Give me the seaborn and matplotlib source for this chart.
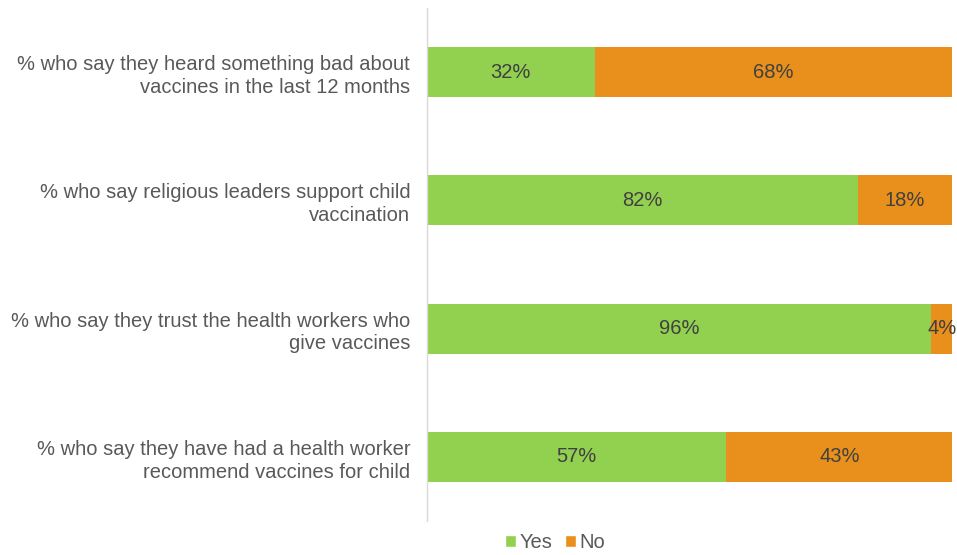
import matplotlib
matplotlib.use("Agg")
import matplotlib.pyplot as plt
from matplotlib.patches import Patch
import seaborn as sns
import pandas as pd

categories = [
    "% who say they heard something bad about\nvaccines in the last 12 months",
    "% who say religious leaders support child\nvaccination",
    "% who say they trust the health workers who\ngive vaccines",
    "% who say they have had a health worker\nrecommend vaccines for child",
]
yes_values = [32, 82, 96, 57]
no_values = [68, 18, 4, 43]
series_names = ["Yes", "No"]

GREEN = "#92D050"
ORANGE = "#E8901B"
TEXT = "#595959"

sns.set_theme(style="white")
plt.rcParams["font.family"] = ["Liberation Sans", "DejaVu Sans"]

df = pd.DataFrame({"cat": categories, "yes": yes_values, "no": no_values})
df["total"] = df["yes"] + df["no"]

fig = plt.figure(figsize=(9.57, 5.55), dpi=100)
ax = fig.add_axes([0.446, 0.0613, 0.549, 0.9243])

sns.barplot(data=df, y="cat", x="total", color=ORANGE, orient="h", width=0.39,
            ax=ax, saturation=1, edgecolor="none")
sns.barplot(data=df, y="cat", x="yes", color=GREEN, orient="h", width=0.39,
            ax=ax, saturation=1, edgecolor="none")

for i, (y_, n_) in enumerate(zip(yes_values, no_values)):
    ax.text(y_ / 2, i, f"{y_}%", ha="center", va="center", fontsize=14.5, color="#404040")
    ax.text(y_ + n_ / 2, i, f"{n_}%", ha="center", va="center", fontsize=14.5, color="#404040")

ax.set_xlim(0, 100)
ax.set_ylim(3.5, -0.5)
ax.set_xlabel("")
ax.set_ylabel("")
ax.set_xticks([])
ax.tick_params(axis="y", length=0, pad=12, labelsize=14.5, labelcolor=TEXT)
for lab in ax.get_yticklabels():
    lab.set_multialignment("right")
    lab.set_linespacing(1.25)
for s in ["top", "right", "bottom"]:
    ax.spines[s].set_visible(False)
ax.spines["left"].set_color("#D9D9D9")
ax.spines["left"].set_linewidth(1)

handles = [Patch(facecolor=GREEN, label=series_names[0]),
           Patch(facecolor=ORANGE, label=series_names[1])]
fig.legend(handles=handles, loc="center", bbox_to_anchor=(0.58, 0.022), ncol=2,
           frameon=False, fontsize=14.5, handlelength=0.55, handleheight=0.55,
           handletextpad=0.2, columnspacing=0.6, labelcolor=TEXT)

fig.savefig("out.png", dpi=100)
